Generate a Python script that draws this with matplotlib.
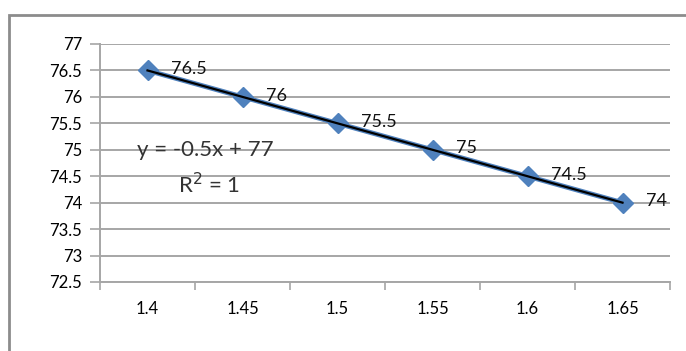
import matplotlib.pyplot as plt
import numpy as np
from matplotlib.patches import Rectangle

# Chart data
categories = ['1.4', '1.45', '1.5', '1.55', '1.6', '1.65']
values = [76.5, 76, 75.5, 75, 74.5, 74]
y_ticks = [72.5, 73, 73.5, 74, 74.5, 75, 75.5, 76, 76.5, 77]

plt.rcParams['font.family'] = ['Lato', 'DejaVu Sans']
plt.rcParams['font.size'] = 11

fig = plt.figure(figsize=(6.86, 3.51), dpi=100)
ax = fig.add_axes([100 / 686, 69 / 351, 570 / 686, 238 / 351])

grid_col = '#a6a6a6'
x = np.arange(len(categories))

# Data series with diamond markers
ax.plot(x, values, color='#4f81bd', lw=3.5, marker='D', ms=10.5,
        mfc='#4f81bd', mec='#4f81bd', zorder=3)

# Linear trendline (Excel uses x = 1..n)
xi = x + 1
slope, intercept = np.polyfit(xi, values, 1)
slope, intercept = round(slope, 4), round(intercept, 4)
ax.plot(x, slope * xi + intercept, color='#000000', lw=1.6, zorder=4)

# Data labels
for xx, v in zip(x, values):
    ax.annotate(f'{v:g}', (xx, v), xytext=(17, 1), textcoords='offset points',
                ha='left', va='center', fontsize=13, color='#111111', zorder=5)

# Equation
eq = 'y = ' + ('-' if slope < 0 else '') + f'{abs(slope):g}x + {intercept:g}'
ax.text(0.065, 0.555, eq, transform=ax.transAxes,
        fontsize=16, color='#333333', va='center', ha='left')
ax.text(0.137, 0.41, r'R$^2$ = 1', transform=ax.transAxes,
        fontsize=16, color='#333333', va='center', ha='left')

ax.set_ylim(72.5, 77)
ax.set_yticks(y_ticks)
ax.set_yticklabels([f'{t:g}' for t in y_ticks])
ax.set_xlim(-0.5, len(categories) - 0.5)
ax.set_xticks(x)
ax.set_xticklabels(categories)
ax.set_xticks(np.arange(len(categories) + 1) - 0.5, minor=True)
ax.tick_params(axis='x', which='major', length=0, pad=14, labelsize=12)
ax.tick_params(axis='x', which='minor', length=6, color=grid_col, width=1.2)
ax.tick_params(axis='y', length=7, color=grid_col, width=1.2, pad=6, labelsize=12)

ax.grid(axis='y', color=grid_col, lw=1.4)
ax.set_axisbelow(True)
for s in ['top', 'right']:
    ax.spines[s].set_visible(False)
for s in ['left', 'bottom']:
    ax.spines[s].set_color(grid_col)
    ax.spines[s].set_linewidth(1.4)

# Outer chart border
fig.patches.append(Rectangle((9 / 686, -0.1), 1.2, (351 - 15) / 351 + 0.1,
                             transform=fig.transFigure, fill=False,
                             edgecolor='#8c8c8c', lw=2))

fig.savefig('out.png', dpi=100)
